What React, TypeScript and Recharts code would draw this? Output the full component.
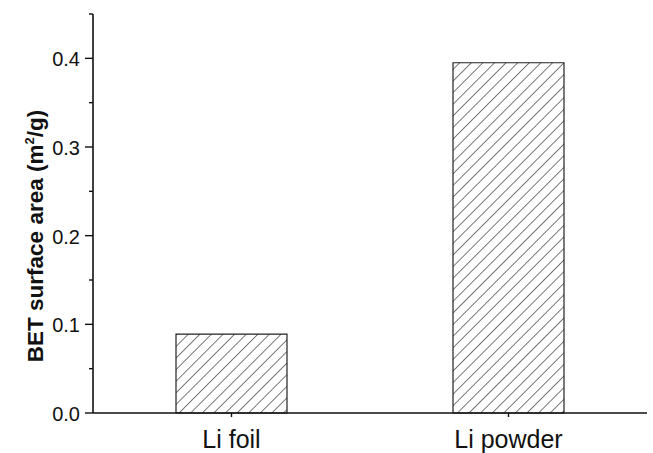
import { BarChart, Bar, XAxis, YAxis } from "recharts";

const samples = ["Li foil", "Li powder"];
const surfaceArea = [0.089, 0.395];
const yTicks = [0, 0.05, 0.1, 0.15, 0.2, 0.25, 0.3, 0.35, 0.4, 0.45];
const yLabels = ["0.0", "0.1", "0.2", "0.3", "0.4"];

const data = samples.map((name, i) => ({ name, area: surfaceArea[i] }));

const FONT = "'Liberation Sans', Arial, Helvetica, sans-serif";

function YTick(props: any) {
  const { x, y, payload } = props;
  const label = yLabels.find((l) => Math.abs(parseFloat(l) - payload.value) < 1e-6);
  const len = label ? 8 : 4;
  return (
    <g>
      <line x1={x - len} y1={y} x2={x} y2={y} stroke="#111" strokeWidth={1.4} />
      {label && (
        <text x={x - 13} y={y + 1} textAnchor="end" dominantBaseline="central" fontSize={20} fontFamily={FONT} fill="#111">
          {label}
        </text>
      )}
    </g>
  );
}

function XTick(props: any) {
  const { x, y, payload } = props;
  return (
    <g>
      <line x1={x} y1={y} x2={x} y2={y + 4} stroke="#111" strokeWidth={1.4} />
      <text x={x} y={y + 35} textAnchor="middle" fontSize={25} fontFamily={FONT} fill="#111">
        {payload.value}
      </text>
    </g>
  );
}

function YTitle() {
  const x = 43;
  const y = 236;
  return (
    <text
      x={x}
      y={y}
      textAnchor="middle"
      transform={`rotate(-90, ${x}, ${y})`}
      fontSize={22.5}
      fontWeight="bold"
      fontFamily={FONT}
      fill="#111"
    >
      BET surface area (m
      <tspan dy={-9} fontSize={13}>2</tspan>
      <tspan dy={9}>/g)</tspan>
    </text>
  );
}

export default function App() {
  return (
    <div style={{ position: "absolute", left: 0, top: 0, width: 653, height: 453, background: "#fff" }}>
      <BarChart width={653} height={453} data={data} margin={{ top: 14, right: 6, left: 0, bottom: 0 }}>
        <defs>
          <pattern id="hatch" width={8.2} height={8.2} patternUnits="userSpaceOnUse" patternTransform="rotate(45)">
            <rect width={8.2} height={8.2} fill="#fff" />
            <line x1={0} y1={0} x2={0} y2={8.2} stroke="#222" strokeWidth={1.2} />
          </pattern>
        </defs>
        <XAxis
          dataKey="name"
          height={40}
          axisLine={{ stroke: "#111", strokeWidth: 1.6 }}
          tickLine={false}
          tickSize={0}
          tickMargin={0}
          tick={<XTick />}
          interval={0}
        />
        <YAxis
          width={93}
          domain={[0, 0.45]}
          ticks={yTicks}
          interval={0}
          axisLine={{ stroke: "#111", strokeWidth: 1.6 }}
          tickLine={false}
          tickSize={0}
          tickMargin={0}
          tick={<YTick />}
          label={{ content: () => <YTitle /> }}
        />
        <Bar
          dataKey="area"
          barSize={111}
          fill="url(#hatch)"
          stroke="#222"
          strokeWidth={1.2}
          isAnimationActive={false}
        />
      </BarChart>
    </div>
  );
}
